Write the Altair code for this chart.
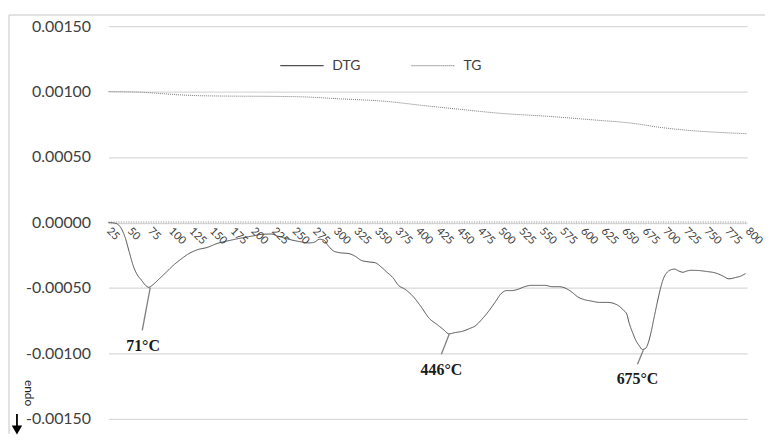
import altair as alt
import pandas as pd

# DTG curve (temperature °C, value)
dtg_T = [25, 33, 40, 45, 50, 55, 60, 65, 70, 74, 78, 85, 95, 105, 113, 122, 132, 145, 157, 170,
         185, 200, 212, 222, 232, 245, 257, 268, 275, 281, 286, 292, 298, 305, 317, 325, 332, 340,
         349, 356, 363, 370, 377, 385, 394, 404, 414, 424, 432, 438, 446, 455, 463, 470, 478, 486,
         494, 502, 508, 514, 522, 530, 538, 547, 555, 563, 571, 579, 587, 595, 603, 611, 621, 631,
         639, 645, 650, 654, 657, 661, 665, 669, 673, 677, 680, 683, 687, 691, 695, 699, 703, 708,
         712, 717, 722, 727, 732, 742, 752, 758, 764, 771, 778, 786, 792, 798]
dtg_v = [0.0, -0.000005, -0.00004, -0.00011, -0.00022, -0.00033, -0.0004, -0.00044, -0.00048,
         -0.000495, -0.00048, -0.00044, -0.00038, -0.00032, -0.00028, -0.00024, -0.00021, -0.00019,
         -0.00016, -0.00014, -0.00012, -0.000103, -0.00009, -0.000088, -0.000107, -0.00013,
         -0.000146, -0.000156, -0.00015, -0.000128, -0.000133, -0.00018, -0.000217, -0.00023,
         -0.000238, -0.00026, -0.00029, -0.0003, -0.000308, -0.00034, -0.00038, -0.00042, -0.00048,
         -0.00051, -0.00056, -0.00064, -0.00073, -0.00078, -0.00082, -0.00085, -0.00084, -0.00083,
         -0.00081, -0.00079, -0.00074, -0.00068, -0.00061, -0.00054, -0.00052, -0.00052, -0.00051,
         -0.00049, -0.00048, -0.00048, -0.00048, -0.00049, -0.00049, -0.0005, -0.00053, -0.00057,
         -0.00059, -0.0006, -0.00061, -0.00061, -0.00062, -0.00064, -0.00067, -0.0007, -0.00077,
         -0.00084, -0.0009, -0.00094, -0.00097, -0.00096, -0.00092, -0.00085, -0.00073, -0.00061,
         -0.0005, -0.00042, -0.00038, -0.00036, -0.000356, -0.00037, -0.00038, -0.00037, -0.000365,
         -0.000367, -0.000375, -0.00038, -0.00039, -0.00041, -0.00043, -0.00042, -0.00041, -0.00039]

# TG curve
tg_T = [25, 65, 85, 136, 257, 300, 370, 400, 450, 500, 560, 620, 650, 670, 690, 710, 800]
tg_v = [0.001, 0.000995, 0.000986, 0.000968, 0.00096, 0.000946, 0.00092, 0.000898, 0.000865,
        0.000834, 0.00081, 0.00078, 0.000765, 0.00075, 0.00073, 0.000715, 0.000678]

x_labels = list(range(25, 801, 25))
y_ticks = [-0.0015, -0.001, -0.0005, 0.0, 0.0005, 0.001, 0.0015]

# Peak annotations
ann_text = ["71°C", "446°C", "675°C"]
ann_tx = [67, 429, 667]
ann_ty = [-0.000946, -0.00113, -0.001196]
lead_x1 = [75.7, 438.7, 674]
lead_y1 = [-0.000497, -0.000849, -0.000976]
lead_x2 = [66, 429, 667]
lead_y2 = [-0.000824, -0.001006, -0.001082]

W, H = 642, 395
FONT = "Lato"

df = pd.concat([
    pd.DataFrame({"T": dtg_T, "v": dtg_v, "series": "DTG"}),
    pd.DataFrame({"T": tg_T, "v": tg_v, "series": "TG"}),
])
ann = pd.DataFrame({"label": ann_text, "tx": ann_tx, "ty": ann_ty,
                    "x1": lead_x1, "y1": lead_y1, "x2": lead_x2, "y2": lead_y2})
xl = pd.DataFrame({"T": x_labels, "v": 0.0, "lab": [str(v) for v in x_labels]})

xscale = alt.Scale(domain=[25, 800], nice=False, zero=False)
yscale = alt.Scale(domain=[-0.0015, 0.0015], nice=False)

lines = alt.Chart(df).mark_line(strokeWidth=1, interpolate="monotone").encode(
    x=alt.X("T:Q", scale=xscale, axis=None),
    y=alt.Y("v:Q", scale=yscale,
            axis=alt.Axis(values=y_ticks,
                          labelExpr="replace(format(datum.value, '.5f'), '\u2212', '-')",
                          labelFontSize=16, labelColor="#404040", labelFont=FONT,
                          labelPadding=18, domain=False, ticks=False, grid=True,
                          gridColor="#d9d9d9", gridWidth=1.3, title=None)),
    color=alt.Color("series:N", scale=alt.Scale(domain=["DTG", "TG"], range=["#505050", "#7a7a7a"]),
                    legend=alt.Legend(title=None, orient="none", legendX=172, legendY=17,
                                      direction="horizontal", symbolType="stroke",
                                      symbolSize=1900, symbolStrokeWidth=1.2,
                                      labelFontSize=14, labelFont=FONT, labelColor="#404040",
                                      columnPadding=48, labelOffset=8)),
    strokeDash=alt.StrokeDash("series:N",
                              scale=alt.Scale(domain=["DTG", "TG"], range=[[1, 0], [1, 1]]),
                              legend=None),
)

# dotted axis-tick band along the zero line
zero_line = alt.Chart(pd.DataFrame({"v": [0.0]})).mark_rule(
    color="#c8c8c8", strokeWidth=3, strokeDash=[1, 1.5]
).encode(y=alt.Y("v:Q", scale=yscale), x=alt.value(0), x2=alt.value(W))

xlabels = alt.Chart(xl).mark_text(angle=45, align="left", baseline="middle", fontSize=11,
                                  font=FONT, color="#404040", dx=5, dy=5).encode(
    x=alt.X("T:Q", scale=xscale), y=alt.Y("v:Q", scale=yscale), text="lab:N")

leaders = alt.Chart(ann).mark_rule(color="#808080", strokeWidth=1.3).encode(
    x=alt.X("x1:Q", scale=xscale), y=alt.Y("y1:Q", scale=yscale),
    x2="x2:Q", y2="y2:Q")

labels = alt.Chart(ann).mark_text(font="Liberation Serif", fontSize=16, fontWeight="bold",
                                  color="#1a1a1a", baseline="middle").encode(
    x=alt.X("tx:Q", scale=xscale), y=alt.Y("ty:Q", scale=yscale), text="label:N")

# frame, "endo" note and arrow
frame = alt.Chart(pd.DataFrame({"a": [0]})).mark_rule(color="#d9d9d9", strokeWidth=1.5).encode(
    x=alt.value(-100), y=alt.value(-11), y2=alt.value(410))
frame_top = alt.Chart(pd.DataFrame({"a": [0]})).mark_rule(color="#d9d9d9", strokeWidth=1.5).encode(
    x=alt.value(-100), x2=alt.value(660), y=alt.value(-11))
endo = alt.Chart(pd.DataFrame({"t": ["endo"]})).mark_text(
    angle=90, fontSize=12, font=FONT, color="#222222", baseline="middle", align="center"
).encode(x=alt.value(-80), y=alt.value(369), text="t:N")
arrow_shaft = alt.Chart(pd.DataFrame({"a": [0]})).mark_rule(color="#000000", strokeWidth=1.8).encode(
    x=alt.value(-92), y=alt.value(390), y2=alt.value(404))
arrow_head = alt.Chart(pd.DataFrame({"a": [0]})).mark_point(
    shape="triangle-down", filled=True, color="#000000", size=110, opacity=1
).encode(x=alt.value(-92), y=alt.value(406))

chart = alt.layer(zero_line, lines, xlabels, leaders, labels, frame, frame_top, endo,
                  arrow_shaft, arrow_head).properties(
    width=W, height=H, padding={"left": 0, "top": 5, "right": 0, "bottom": 0},
    background="white"
).configure_view(stroke=None)

chart.save("out.html", embed_options={"renderer": "svg", "actions": False})
